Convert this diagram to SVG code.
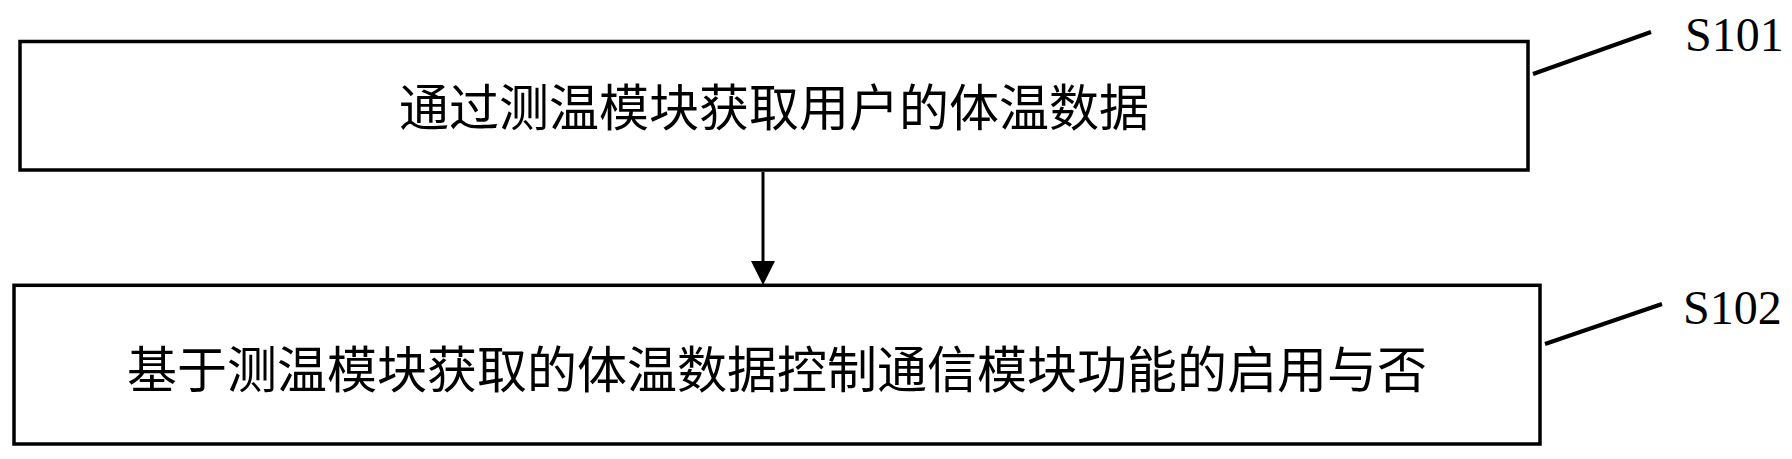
<svg xmlns="http://www.w3.org/2000/svg" width="1792" height="459" viewBox="0 0 1792 459">
<style>
.box{fill:#fff;stroke:#000;stroke-width:3.5}
.cjk{font-family:"Noto Sans CJK SC","Noto Sans CJK JP",sans-serif;font-size:50px;fill:#000;text-anchor:middle;dominant-baseline:central}
.lbl{font-family:"Liberation Serif","Times New Roman",serif;font-size:48px;fill:#000}
.lead{stroke:#000;stroke-width:4;fill:none}
.conn{stroke:#000;stroke-width:3;fill:none}
</style>
<rect width="1792" height="459" fill="#fff"/>
<g id="node-s101">
<rect class="box" x="20" y="41.5" width="1508" height="128.5"/>
<text class="cjk" x="774" y="104">通过测温模块获取用户的体温数据</text>
<line class="lead" x1="1533" y1="74" x2="1651" y2="32"/>
<text class="lbl" x="1685" y="51">S101</text>
</g>
<g id="node-s102">
<rect class="box" x="14" y="285.3" width="1526" height="158.7"/>
<text class="cjk" x="777" y="366">基于测温模块获取的体温数据控制通信模块功能的启用与否</text>
<line class="lead" x1="1545" y1="344" x2="1662" y2="304"/>
<text class="lbl" x="1683" y="323.5">S102</text>
</g>
<g id="connectors">
<line class="conn" x1="763" y1="172" x2="763" y2="262"/>
<polygon points="751,261 775,261 763,285" fill="#000"/>
</g>
</svg>
